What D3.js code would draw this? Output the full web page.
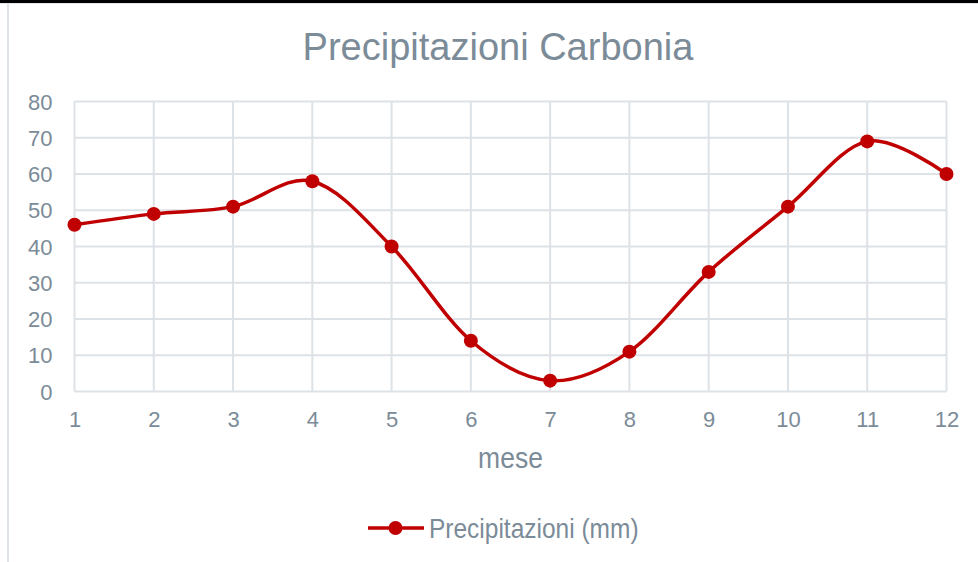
<!DOCTYPE html>
<html>
<head>
<meta charset="utf-8">
<script src="https://cdn.jsdelivr.net/npm/d3@7"></script>
<style>
  html, body { margin: 0; padding: 0; background: #fff; }
  svg { display: block; }
  text { font-family: "Liberation Sans", Arial, sans-serif; fill: #7b8b98; }
</style>
</head>
<body>
<svg id="chart" width="978" height="562"></svg>
<script>
// Monthly rainfall, Carbonia
const months = [1, 2, 3, 4, 5, 6, 7, 8, 9, 10, 11, 12];
const rainfall = [46, 49, 51, 58, 40, 14, 3, 11, 33, 51, 69, 60];
const yTicks = [0, 10, 20, 30, 40, 50, 60, 70, 80];
const title = "Precipitazioni Carbonia";
const xTitle = "mese";
const seriesName = "Precipitazioni (mm)";

const svg = d3.select("#chart");
const W = 978, H = 562;
const red = "#c00000";
const grid = "#dde2e7";
const font = '"Liberation Sans", Arial, sans-serif';

// frame
svg.append("rect").attr("x", 0).attr("y", 0).attr("width", W).attr("height", 3).attr("fill", "#000");
svg.append("line").attr("x1", 0).attr("x2", W).attr("y1", 3.5).attr("y2", 3.5)
  .attr("stroke", "#e3e8ee").attr("stroke-width", 1);
svg.append("line").attr("x1", 8).attr("x2", 8).attr("y1", 4).attr("y2", H)
  .attr("stroke", "#dfe4ea").attr("stroke-width", 2);

const x = d3.scaleLinear().domain([1, 12]).range([74.5, 946.5]);
const y = d3.scaleLinear().domain([0, 80]).range([391.5, 101.5]);

// gridlines
svg.append("g").selectAll("line").data(yTicks).join("line")
  .attr("x1", x(1)).attr("x2", x(12))
  .attr("y1", d => y(d)).attr("y2", d => y(d))
  .attr("stroke", grid).attr("stroke-width", 2);
svg.append("g").selectAll("line").data(months).join("line")
  .attr("x1", d => x(d)).attr("x2", d => x(d))
  .attr("y1", y(80)).attr("y2", y(0))
  .attr("stroke", grid).attr("stroke-width", 2);

// axes
const yAxis = svg.append("g").attr("transform", `translate(${x(1)},0)`)
  .call(d3.axisLeft(y).tickValues(yTicks).tickSize(0).tickPadding(22));
yAxis.select(".domain").remove();
yAxis.selectAll("text").style("font-size", "22px").attr("dy", "0.35em")
  .style("font-family", font).attr("fill", "#7b8b98");

const xAxis = svg.append("g").attr("transform", `translate(0,${y(0)})`)
  .call(d3.axisBottom(x).tickValues(months).tickFormat(d3.format("d")).tickSize(0).tickPadding(20));
xAxis.select(".domain").remove();
xAxis.selectAll("text").style("font-size", "22px")
  .style("font-family", font).attr("fill", "#7b8b98");

// titles
svg.append("text").attr("x", 498).attr("y", 60).attr("text-anchor", "middle")
  .style("font-size", "38px").text(title);
svg.append("text")
  .attr("transform", `translate(${(x(1) + x(12)) / 2},468) scale(1,1.12)`)
  .attr("text-anchor", "middle")
  .style("font-size", "26.5px").text(xTitle);

// series
const pts = months.map((m, i) => [x(m), y(rainfall[i])]);
svg.append("path").datum(pts)
  .attr("d", d3.line().curve(d3.curveCardinal.tension(0)))
  .attr("fill", "none").attr("stroke", red).attr("stroke-width", 3.5)
  .attr("stroke-linejoin", "round");
svg.append("g").selectAll("circle").data(pts).join("circle")
  .attr("cx", d => d[0]).attr("cy", d => d[1]).attr("r", 7).attr("fill", red);

// legend
const lg = svg.append("g");
lg.append("line").attr("x1", 368).attr("x2", 424).attr("y1", 528).attr("y2", 528)
  .attr("stroke", red).attr("stroke-width", 3.5);
lg.append("circle").attr("cx", 395.5).attr("cy", 528).attr("r", 7).attr("fill", red);
lg.append("text").attr("transform", "translate(429,538) scale(1,1.15)")
  .style("font-size", "24.5px").text(seriesName);
</script>
</body>
</html>
